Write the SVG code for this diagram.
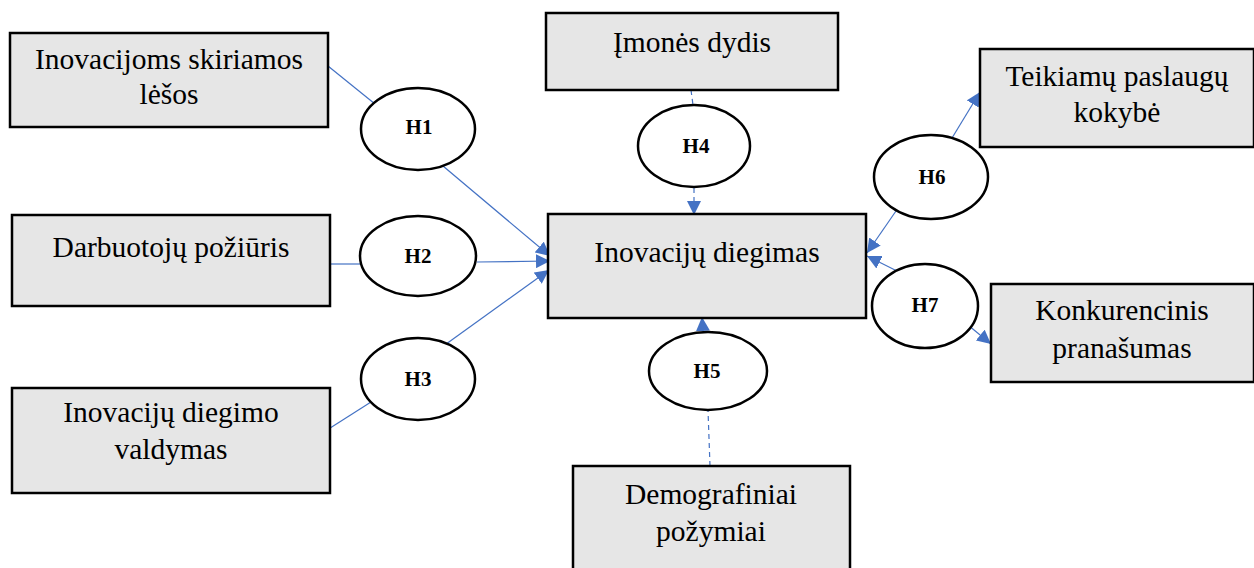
<svg xmlns="http://www.w3.org/2000/svg" width="1254" height="568" viewBox="0 0 1254 568">
  <style>
    .box { fill: #e6e6e6; stroke: #000; stroke-width: 2.5; }
    .ell { fill: #fff; stroke: #000; stroke-width: 2.5; }
    .t { font-size: 29.5px; fill: #000; text-anchor: middle; }
    .h { font-size: 21px; font-weight: bold; fill: #000; text-anchor: middle; }
    .ln { stroke: #4472c4; stroke-width: 1.2; fill: none; }
    .dash { stroke-dasharray: 5 4; }
    .arr { marker-end: url(#ah); }
  </style>
  <defs>
    <marker id="ah" viewBox="0 0 10 10" refX="10" refY="5" markerWidth="14" markerHeight="14" markerUnits="userSpaceOnUse" orient="auto">
      <path d="M0,0 L10,5 L0,10 z" fill="#4472c4"/>
    </marker>
  </defs>

  <rect width="1254" height="568" fill="#fff"/>

  <!-- connectors -->
  <g id="connectors">
    <line class="ln" x1="328" y1="66" x2="375" y2="104"/>
    <line class="ln arr" x1="443" y1="166" x2="550" y2="256"/>
    <line class="ln" x1="330" y1="264" x2="360" y2="264"/>
    <line class="ln arr" x1="477" y1="262" x2="550" y2="261"/>
    <line class="ln" x1="327" y1="430" x2="371" y2="402"/>
    <line class="ln arr" x1="442" y1="347" x2="549" y2="270"/>
    <line class="ln dash" x1="691" y1="90" x2="693" y2="105"/>
    <line class="ln dash arr" x1="694" y1="188" x2="694" y2="215"/>
    <line class="ln dash" x1="710" y1="466" x2="708" y2="410"/>
    <line class="ln dash arr" x1="703" y1="332" x2="702" y2="317"/>
    <line class="ln arr" x1="952" y1="138" x2="980" y2="92"/>
    <line class="ln arr" x1="896" y1="211" x2="867" y2="253"/>
    <line class="ln arr" x1="897" y1="271" x2="867" y2="256"/>
    <line class="ln arr" x1="968" y1="325" x2="991" y2="344"/>
  </g>

  <g font-family="Liberation Serif, Times New Roman, serif">
  <g id="n-lesos">
    <rect class="box" x="10" y="33" width="318" height="94"/>
    <text class="t" x="169" y="69">Inovacijoms skiriamos</text>
    <text class="t" x="169" y="104">lėšos</text>
  </g>
  <g id="n-poziuris">
    <rect class="box" x="12" y="215" width="318" height="91"/>
    <text class="t" x="171" y="257">Darbuotojų požiūris</text>
  </g>
  <g id="n-valdymas">
    <rect class="box" x="12" y="388" width="318" height="105"/>
    <text class="t" x="171" y="422">Inovacijų diegimo</text>
    <text class="t" x="171" y="459">valdymas</text>
  </g>
  <g id="n-dydis">
    <rect class="box" x="546" y="13" width="292" height="77"/>
    <text class="t" x="692" y="52">Įmonės dydis</text>
  </g>
  <g id="n-diegimas">
    <rect class="box" x="548" y="214" width="318" height="104"/>
    <text class="t" x="707" y="262">Inovacijų diegimas</text>
  </g>
  <g id="n-kokybe">
    <rect class="box" x="980" y="49" width="274" height="98"/>
    <text class="t" x="1117" y="86">Teikiamų paslaugų</text>
    <text class="t" x="1117" y="122">kokybė</text>
  </g>
  <g id="n-pranasumas">
    <rect class="box" x="991" y="284" width="263" height="98"/>
    <text class="t" x="1122" y="320">Konkurencinis</text>
    <text class="t" x="1122" y="358">pranašumas</text>
  </g>
  <g id="n-demografiniai">
    <rect class="box" x="573" y="466" width="277" height="110"/>
    <text class="t" x="711" y="504">Demografiniai</text>
    <text class="t" x="711" y="541">požymiai</text>
  </g>

  <g id="h1"><ellipse class="ell" cx="418" cy="129" rx="57" ry="41"/><text class="h" x="419" y="134">H1</text></g>
  <g id="h2"><ellipse class="ell" cx="418" cy="256" rx="58" ry="40"/><text class="h" x="418" y="263">H2</text></g>
  <g id="h3"><ellipse class="ell" cx="418" cy="379" rx="57" ry="41"/><text class="h" x="418" y="386">H3</text></g>
  <g id="h4"><ellipse class="ell" cx="694" cy="146" rx="56" ry="41"/><text class="h" x="696" y="153">H4</text></g>
  <g id="h5"><ellipse class="ell" cx="708" cy="371" rx="59" ry="39"/><text class="h" x="707" y="378">H5</text></g>
  <g id="h6"><ellipse class="ell" cx="931" cy="177" rx="57" ry="42"/><text class="h" x="932" y="184">H6</text></g>
  <g id="h7"><ellipse class="ell" cx="925" cy="306" rx="53" ry="42"/><text class="h" x="925" y="312">H7</text></g>
  </g>
</svg>
